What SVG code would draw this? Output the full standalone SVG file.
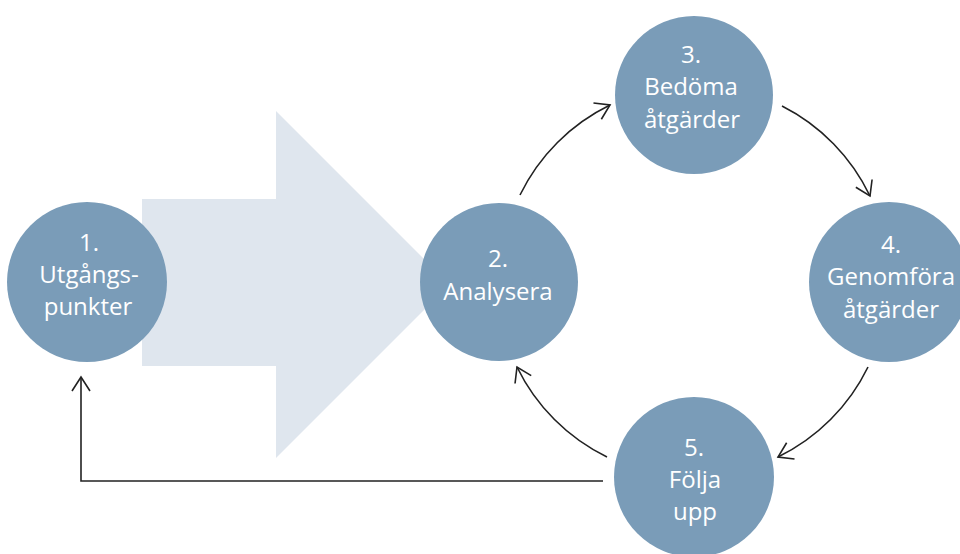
<svg xmlns="http://www.w3.org/2000/svg" width="960" height="554" viewBox="0 0 960 554">
<defs>
<style>
.node{fill:#7a9cb8}
.lbl{fill:#ffffff;font-family:"Open Sans","Liberation Sans",sans-serif;font-size:24px;text-anchor:middle}
.con{fill:none;stroke:#222222;stroke-width:1.6}
</style>
<marker id="open" markerUnits="userSpaceOnUse" markerWidth="30" markerHeight="30" viewBox="-20 -15 30 30" refX="0" refY="0" orient="auto">
<path d="M-14,-9 L0,0 L-14,9" fill="none" stroke="#222222" stroke-width="1.6"/>
</marker>
</defs>
<rect width="960" height="554" fill="#ffffff"/>
<polygon id="bigarrow" points="142,199 276,199 276,111 449.5,284.5 276,458 276,366 142,366" fill="#dfe6ee"/>
<g id="connectors">
<path class="con" d="M520,195 A195,195 0 0 1 610,105" marker-end="url(#open)"/>
<path class="con" d="M782,106 A195,195 0 0 1 870,196" marker-end="url(#open)"/>
<path class="con" d="M868,367 A195,195 0 0 1 778,457" marker-end="url(#open)"/>
<path class="con" d="M607,457 A195,195 0 0 1 517,367" marker-end="url(#open)"/>
<path class="con" d="M603,481 L81,481 L81,377" marker-end="url(#open)"/>
</g>
<g id="n1">
<circle class="node" cx="87" cy="282" r="80"/>
<text class="lbl" x="89" y="251">1.</text>
<text class="lbl" x="89" y="283">Utgångs-</text>
<text class="lbl" x="88" y="315">punkter</text>
</g>
<g id="n2">
<circle class="node" cx="499" cy="282" r="79"/>
<text class="lbl" x="498" y="267">2.</text>
<text class="lbl" x="498" y="300">Analysera</text>
</g>
<g id="n3">
<circle class="node" cx="694" cy="95" r="79"/>
<text class="lbl" x="691" y="63">3.</text>
<text class="lbl" x="691" y="95">Bedöma</text>
<text class="lbl" x="692" y="128">åtgärder</text>
</g>
<g id="n4">
<circle class="node" cx="889" cy="282" r="80"/>
<text class="lbl" x="891" y="253">4.</text>
<text class="lbl" x="891" y="285">Genomföra</text>
<text class="lbl" x="891" y="318">åtgärder</text>
</g>
<g id="n5">
<circle class="node" cx="694" cy="477" r="80"/>
<text class="lbl" x="694" y="456">5.</text>
<text class="lbl" x="695" y="488">Följa</text>
<text class="lbl" x="695" y="520">upp</text>
</g>
</svg>
